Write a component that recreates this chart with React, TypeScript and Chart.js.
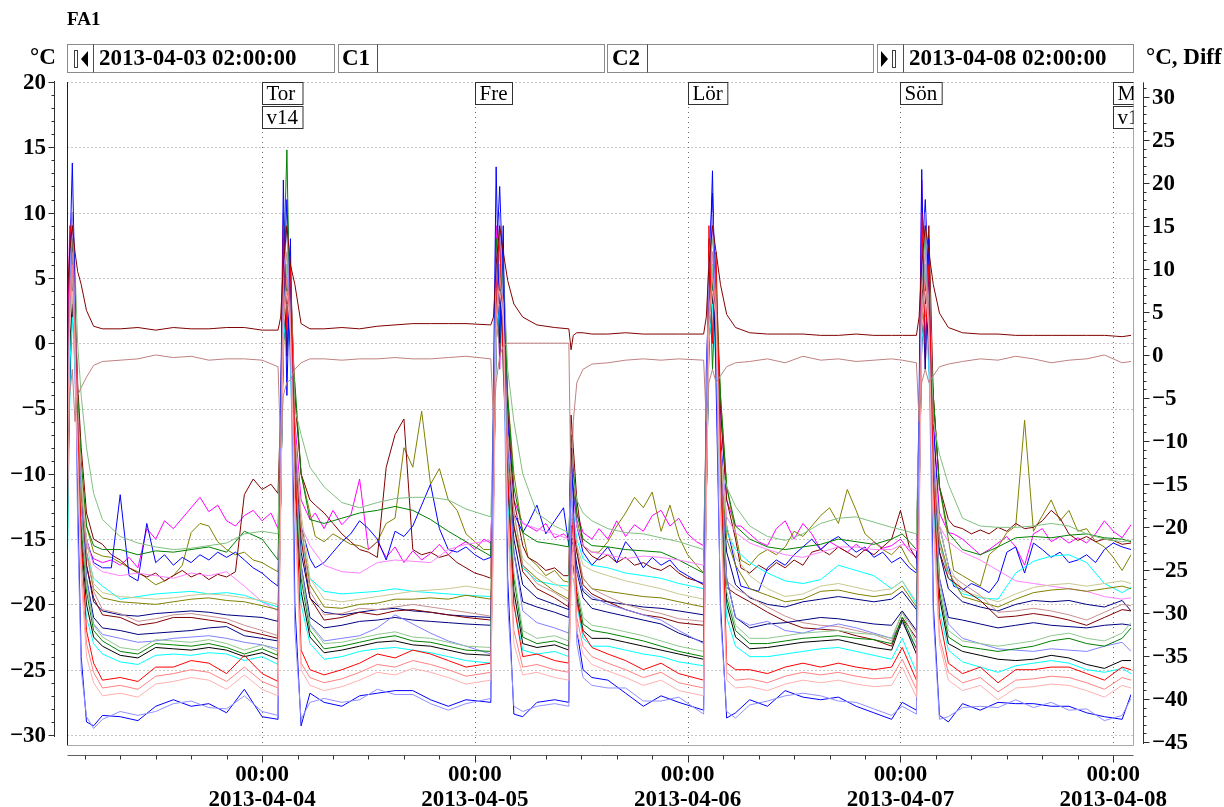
import React, { useEffect, useRef } from "react";
import { Chart, registerables } from "chart.js";

Chart.register(...registerables);

// ---------- time axes: hours after 2013-04-03 02:00 ----------
const hours = [
  0, 0.3, 0.6, 0.9, 1.2, 1.6, 2.2, 3, 4,
  6, 8, 10, 12, 14, 16, 18, 20, 22, 23.8,
  24.1, 24.4, 24.8, 25.2, 25.7, 26.4, 27.4,
  29, 31, 33, 35, 37, 39, 41, 43, 45, 47.8,
  48.1, 48.4, 48.8, 49.2, 49.7, 50.4, 51.4,
  53, 55, 56.6, 56.85, 57.1, 57.5, 58.2, 59.2,
  61, 63, 65, 67, 69, 71.8,
  72.1, 72.4, 72.8, 73.2, 73.7, 74.4, 75.4,
  77, 79, 81, 83, 85, 87, 89, 91, 93, 94.2, 95.8,
  96.1, 96.4, 96.8, 97.2, 97.7, 98.4, 99.4,
  101, 103, 105, 107, 109, 111, 113, 115, 117, 119, 120,
];
const fineHours = [
  0, 0.3, 0.6, 0.9, 1.2, 1.6, 2.2, 3, 4,
  5, 6, 7, 8, 9, 10, 11, 12, 13, 14, 15, 16, 17, 18, 19, 20, 21, 22, 23, 23.8,
  24.1, 24.4, 24.8, 25.2, 25.7, 26.4, 27.4,
  28, 29, 30, 31, 32, 33, 34, 35, 36, 37, 38, 39, 40, 41, 42, 43, 44, 45, 46, 47, 47.8,
  48.1, 48.4, 48.8, 49.2, 49.7, 50.4, 51.4,
  52, 53, 54, 55, 56, 56.6, 56.85, 57.1, 57.5, 58.2, 59.2,
  60, 61, 62, 63, 64, 65, 66, 67, 68, 69, 70, 71, 71.8,
  72.1, 72.4, 72.8, 73.2, 73.7, 74.4, 75.4,
  76, 77, 78, 79, 80, 81, 82, 83, 84, 85, 86, 87, 88, 89, 90, 91, 92, 93, 94, 95, 95.8,
  96.1, 96.4, 96.8, 97.2, 97.7, 98.4, 99.4,
  100, 101, 102, 103, 104, 105, 106, 107, 108, 109, 110, 111, 112, 113, 114, 115, 116, 117, 118, 119, 120,
];

// ---------- noisy series (fine time axis, °C) ----------
const magenta = [
  -2, 9, 5, -2, -8, -13, -15.5, -16.5, -16.8,
  -16.6, -17.0, -16.4, -17.2, -14.2, -15.0, -13.6, -14.2, -13.4, -12.6, -11.8, -12.9, -12.4, -13.6, -14.0, -13.2, -12.8, -13.6, -13.0, -14.2,
  -6, 10, 0, 6, -6, -12, -13.5,
  -13.0, -14.2, -12.8, -13.9, -13.2, -10.4, -15.8, -15.2, -16.4, -15.6, -16.8, -15.9, -16.6, -16.1, -15.4, -16.2, -15.6, -15.2, -15.8, -15.0, -15.3,
  -8, 9, -2, 5, -5, -12, -13.8,
  -14.0, -14.4, -13.8, -14.9, -14.6, -15.0, -12, -10, -13, -14.5, -15.0,
  -14.2, -15.0, -13.6, -14.8, -13.9, -14.4, -13.2, -12.8, -14.0, -13.4, -14.6, -15.2, -15.5,
  -6, 2, 10, 0, -5, -12, -14,
  -14.0, -14.6, -15.2, -15.5, -14.2, -13.6, -15.0, -13.8, -14.6, -15.8, -15.2, -15.6, -16.0, -15.4, -15.9, -15.2, -15.7, -15.5, -15.0, -15.9, -16.4,
  -6, 12.5, 2, 6, -6, -13, -14.5,
  -14.6, -15.0, -15.6, -16.2, -15.8, -15.3, -14.8, -15.6, -17.0, -14.6, -14.2, -15.2, -14.8, -15.3, -14.9, -15.3, -14.6, -13.6, -14.4, -14.9, -13.9,
];
const oliveUp = [
  -18, -3, 5, 2, -6, -10, -14, -16, -16.3,
  -16.4, -16.8, -17.2, -17.5, -18.0, -18.5, -18.2, -17.8, -17.0, -14.5, -13.8, -14.0, -15.2, -15.8, -16.2, -16.0, -16.6, -16.8, -17.2, -17.5,
  -8, -1, 6, 4, -4, -10, -13,
  -14.8, -15.2, -14.6, -15.0, -15.4, -15.5, -15.8, -15.2, -13.8, -13.4, -8.0, -9.5, -5.2, -10.8, -9.6, -12.0, -12.8, -14.6, -15.2, -15.8, -15.8,
  -8, 2, 6, 3, -4, -10, -14.5,
  -16.4, -17.0, -17.8, -17.4, -18.2, -18.3, -9.0, -11.0, -13.5, -15.5, -16.0,
  -16.0, -15.2, -14.0, -13.0, -11.8, -12.6, -11.4, -14.4, -12.4, -14.8, -16.2, -17.0, -17.6,
  -8, 2, 6, 3, -4, -11, -14.5,
  -16.6, -17.0, -16.2, -15.8, -16.2, -15.6, -14.4, -14.8, -14.0, -13.2, -12.6, -13.8, -11.2, -12.8, -14.6, -15.2, -15.8, -16.2, -15.5, -16.8, -17.4,
  -8, 1, 5, 3, -4, -11, -15,
  -17.4, -17.8, -18.2, -18.6, -16.2, -15.6, -14.5, -14.0, -5.9, -14.4, -13.2, -12.0, -13.6, -12.8, -14.4, -14.2, -15.2, -15.6, -16.4, -17.4, -16.2,
];
const blueUp = [
  -10, 3, 8, 0, -8, -12, -15, -16.8, -17.2,
  -17.2, -11.6, -17.8, -18.2, -13.8, -16.8, -16.2, -17.0, -16.4, -16.8, -16.2, -16.6, -16.0, -16.4, -16.0, -16.6, -17.2, -17.6, -18.2, -18.6,
  -10, 4, 11, 3, -8, -14, -16.5,
  -17.2, -16.8, -16.0, -15.2, -14.6, -13.6, -14.2, -15.0, -16.6, -14.4, -14.8, -14.0, -12.4, -10.8, -14.2, -15.8, -16.0, -15.6, -16.2, -16.6, -16.4,
  -8, 6, 12, 4, -6, -13, -14.5,
  -13.8, -12.4, -14.6, -13.6, -12.6, -15.5, -8.5, -11.5, -14.0, -16.0, -17.0,
  -16.4, -15.6, -16.8, -15.2, -16.0, -17.2, -16.4, -17.0, -16.6, -17.4, -17.8, -18.2, -18.4,
  -8, 6, 11.5, 3, -7, -14, -17,
  -18.6, -18.8, -19.0, -17.2, -16.6, -17.0, -16.2, -15.6, -15.0, -15.8, -15.2, -14.8, -15.4, -16.0, -15.6, -16.4, -16.0, -16.8, -16.4, -17.2, -17.6,
  -8, 6, 11, 4, -6, -14, -17,
  -18.6, -18.9, -18.4, -18.7, -19.1, -18.2, -16.0, -15.6, -17.6, -15.3, -15.8, -16.4, -16.0, -16.8, -16.6, -16.2, -16.8, -15.8, -15.3, -15.6, -15.8,
];
const maroonUp = [
  -6, 4, 7, 3, -3, -8, -13, -15, -15.4,
  -16.2, -16.6, -17.2, -17.6, -17.9, -17.6, -18.2, -17.8, -17.4, -17.9, -17.6, -18.1, -17.7, -17.9, -17.5, -11.6, -10.4, -11.2, -10.8, -11.5,
  -5, 8, -1, 5, -4, -10, -12,
  -12.4, -13.0, -13.8, -14.6, -15.2, -15.8, -16.0, -16.4, -9.5, -7.0, -5.8, -15.8, -16.2, -16.0, -16.4, -16.2, -16.8, -17.2, -17.6, -17.8, -18.0,
  -6, 4, 8, -1, -5, -12, -15.5,
  -16.4, -16.8, -17.4, -17.2, -17.8, -17.8, -5.5, -8, -12, -15.5, -16.3,
  -16.6, -16.2, -16.8, -16.4, -17.0, -16.8, -17.2, -17.4, -17.0, -17.6, -18.0, -18.2, -18.5,
  -6, 8, 0, 4, -5, -12, -15,
  -17.2, -17.6, -17.0, -17.4, -16.8, -17.2, -16.6, -17.0, -16.0, -15.8, -16.2, -15.6, -16.0, -16.4, -15.8, -16.2, -15.6, -15.0, -12.8, -15.6, -16.5,
  -5, 5, -2, 9, -4, -11, -13.5,
  -14.0, -14.2, -14.6, -14.3, -14.6, -14.1, -14.4, -13.8, -14.2, -14.1, -13.6, -12.8, -13.4, -14.6, -15.1, -14.8, -15.2, -15.0, -15.1, -15.4, -15.3,
];

// ---------- smoother series (coarse time axis, °C) ----------
const topA = [
  3, 7, 9, 7, 5.5, 4.5, 2.5, 1.3, 1.1,
  1.1, 1.2, 1.0, 1.2, 1.1, 1.1, 1.2, 1.2, 1.0, 1.0,
  2, 6, 9, 6, 4.5, 1.5, 1.1,
  1.1, 1.2, 1.1, 1.3, 1.4, 1.5, 1.5, 1.5, 1.5, 1.4,
  2, 6, 9, 7, 4.8, 3.0, 2.0,
  1.4, 1.2, 1.1, -0.5, 0.6, 0.8, 0.8, 0.7,
  0.7, 0.8, 0.7, 0.7, 0.7, 0.7,
  2, 6, 9, 7, 4.5, 2.2, 1.2,
  0.8, 0.7, 0.7, 0.7, 0.6, 0.6, 0.7, 0.6, 0.6, 0.6, 0.6,
  2, 6, 9, 7, 4.5, 2.3, 1.2,
  0.8, 0.7, 0.7, 0.6, 0.6, 0.6, 0.6, 0.6, 0.6, 0.5, 0.6,
];
const topB = [
  -10, -4, -2, -6, -4, -3.4, -2.6, -1.7, -1.4,
  -1.3, -1.2, -0.9, -1.1, -1.0, -1.3, -1.2, -1.2, -1.3, -1.8,
  -8, -4, -3, -2.8, -2.0, -1.5, -1.2,
  -1.2, -1.3, -1.2, -1.2, -1.1, -1.2, -1.2, -1.1, -1.0, -1.2,
  -6, -3, -1, -0.2, 0, 0, 0,
  0, 0, 0, -12, -6, -3, -2, -1.6,
  -1.5, -1.3, -1.2, -1.3, -1.2, -1.3,
  -6, -3, -2, -3, -2.5, -1.8, -1.5,
  -1.4, -1.2, -1.5, -1.0, -1.3, -1.2, -1.4, -1.3, -1.2, -1.3, -1.5,
  -6, -3, -2, -3, -2.5, -1.8, -1.6,
  -1.4, -1.2, -1.3, -1.0, -1.2, -1.5, -1.3, -1.2, -0.9, -1.5, -1.4,
];
const lightMagenta = [
  -12, 4, 6, -3, -8, -12, -15, -17, -17.5,
  -17.8, -17.6, -17.8, -18.0, -17.6, -17.8, -17.5, -18.6, -19.8, -20.5,
  -10, 2, 6, 0, -8, -14, -15.5,
  -17.0, -17.5, -17.6, -16.8, -16.6, -16.7, -16.8, -15.8, -15.4, -15.1,
  -9, 2, 6, 0, -8, -13, -13.8,
  -14.2, -14.6, -15.0, -14, -12, -14, -15.5, -16.0,
  -16.2, -16.5, -16.3, -16.4, -16.6, -17.0,
  -10, 3, 7, 0, -8, -13.3, -14.5,
  -15.3, -15.8, -16.2, -16.4, -16.0, -15.6, -15.6, -15.8, -15.8, -15.4, -15.9,
  -10, 2, 6, 0, -8, -14, -15.2,
  -16.0, -16.6, -17.4, -18.2, -18.4, -18.6, -18.8, -19.0, -19.4, -19.6, -19.5,
];
const greenUp = [
  -14, 2, 8, 3, -4, -9, -14, -15.5, -15.8,
  -15.8, -16.2, -15.9, -16.0, -15.8, -15.6, -16.0, -14.4, -15.0, -16.6,
  -6, 5, 14.8, -1, -3, -10, -13.5,
  -13.8, -13.4, -13.0, -12.8, -12.5, -12.8, -13.5, -14.4, -15.2, -16.3,
  -6, 8, -1, 6, -4, -11, -14.5,
  -15.2, -15.4, -15.6, -7.0, -9.5, -13.0, -15.0, -15.5,
  -15.6, -15.8, -15.9, -16.0, -16.6, -17.6,
  -6, 7, -2, 5, -4, -11, -14,
  -15.0, -15.6, -15.8, -15.6, -15.4, -15.0, -15.2, -15.4, -15.0, -14.6, -15.8,
  -6, 4, 9, 0, -4, -11, -14.5,
  -15.8, -16.2, -15.6, -14.9, -14.8, -14.9, -14.7, -14.6, -14.9, -15.0, -15.2,
];
const lightGreenUp = [
  -10, 5, 10, 6, 0, -4, -8, -11.5, -13.5,
  -14.8, -15.3, -15.6, -15.8, -15.7, -15.5, -15.3, -14.6, -14.4, -14.6,
  -4, 5, 9, 6, -5, -7, -9.5,
  -11.0, -12.2, -12.6, -12.2, -11.9, -11.8, -11.8, -12.0, -12.7, -13.3,
  -5, 5, 8, 6, -2, -6, -10,
  -13.0, -14.0, -14.5, -10.0, -10.5, -12.0, -13.0, -13.6,
  -14.2, -14.5, -14.6, -14.9, -15.2, -15.8,
  -5, 5, 8, 5, -9, -11, -12.5,
  -14.0, -14.8, -15.1, -14.6, -13.8, -13.4, -13.3, -13.7, -14.1, -14.3, -14.6,
  -5, 5, 9, 7, -6, -8.5, -10.8,
  -13.4, -14.0, -14.1, -14.1, -14.0, -13.8, -14.0, -14.6, -15.0, -15.2, -15.1,
];
const cyanUp = [
  -19, -5, 3, 0, -8, -12, -16, -18, -18.6,
  -19.6, -19.4, -19.2, -19.1, -19.0, -19.2, -19.1, -19.3, -19.8, -20.2,
  -12, 2, 5, 0, -8, -15, -18,
  -19.0, -19.2, -19.1, -19.0, -18.8, -19.0, -19.1, -19.2, -19.3, -19.4,
  -12, 2, 5, 0, -8, -14, -17.2,
  -18.2, -18.5, -18.6, -12, -13, -15, -16.5, -17.0,
  -17.2, -17.6, -17.8, -18.0, -18.4, -18.8,
  -12, 2, 5, 0, -10, -14.5, -15.8,
  -16.8, -17.6, -18.2, -18.4, -18.1, -17.0, -17.4, -17.8, -18.8, -18.2, -20.0,
  -12, 2, 5, 0, -10, -15, -18,
  -19.2, -19.5, -19.6, -17.6, -16.7, -16.3, -16.2, -16.8, -18.4, -19.1, -18.7,
];
const oliveMid = [
  -16, -2, 4, 1, -6, -11, -16, -18.8, -19.5,
  -19.8, -19.9, -20.0, -19.8, -19.6, -19.5, -19.7, -19.8, -20.1, -20.4,
  -12, 1, 4, 0, -8, -14, -18.5,
  -20.2, -20.3, -20.0, -19.9, -19.6, -19.6, -19.5, -19.6, -19.3, -19.6,
  -12, 1, 4, 0, -8, -14, -17,
  -18.0, -19.0, -19.6, -14, -14, -16, -18, -18.8,
  -19.0, -19.2, -19.4, -19.5, -19.8, -20.2,
  -12, 1, 4, 0, -9, -15, -17,
  -18.8, -19.3, -19.8, -19.6, -19.0, -18.9, -19.2, -19.4, -19.2, -18.6, -20.2,
  -12, 1, 4, 0, -9, -15, -17.5,
  -19.4, -19.8, -20.2, -19.6, -19.1, -18.9, -18.8, -19.0, -18.8, -18.6, -18.8,
];
const lightOliveMid = [
  -14, 0, 5, 2, -5, -10, -15, -18.4, -19.1,
  -19.4, -19.5, -19.6, -19.5, -19.3, -19.2, -19.3, -19.5, -19.7, -20.0,
  -10, 2, 5, 1, -7, -13, -18,
  -19.6, -19.8, -19.6, -19.4, -19.2, -19.0, -18.9, -18.8, -18.6, -18.9,
  -10, 2, 5, 1, -7, -13, -16.5,
  -17.5, -18.4, -19.0, -13, -13.5, -15.5, -17, -17.4,
  -17.8, -18.2, -18.5, -18.8, -19.2, -19.6,
  -10, 2, 5, 1, -8, -14, -16.4,
  -17.8, -18.8, -19.4, -19.2, -18.6, -18.4, -18.7, -19.0, -18.8, -18.2, -19.8,
  -10, 2, 5, 1, -8, -14, -17,
  -19.0, -19.4, -19.8, -19.2, -18.7, -18.5, -18.4, -18.6, -18.4, -18.2, -18.4,
];
const navyUp = [
  -15, -3, 3, 0, -7, -12, -17, -19.8, -20.5,
  -20.8, -20.9, -20.7, -20.6, -20.5, -20.6, -20.8, -20.9, -21.0, -21.3,
  -12, 0, 4, -1, -9, -16, -19.5,
  -20.6, -20.8, -20.6, -20.4, -20.3, -20.5, -20.6, -20.8, -20.9, -21.0,
  -12, 0, 4, -1, -9, -15, -18.5,
  -19.5, -20.0, -20.4, -15, -15, -17, -19, -19.6,
  -19.8, -20.0, -20.2, -20.3, -20.5, -20.8,
  -12, 0, 4, -1, -10, -16, -18.5,
  -19.5, -20.0, -20.2, -19.8, -19.6, -19.4, -19.6, -19.8, -19.6, -19.0, -20.4,
  -12, 0, 4, -1, -10, -16, -18.8,
  -19.8, -20.2, -20.5, -20.0, -19.7, -19.8, -19.7, -20.0, -20.2, -19.7, -20.5,
];
const maroonMid = [
  -12, 2, 6, 2, -6, -12, -17, -19.5, -20.8,
  -21.0, -21.6, -21.4, -21.0, -21.0, -21.2, -21.4, -22.0, -22.3, -22.6,
  -10, 3, 6, 2, -8, -15, -19.5,
  -21.2, -21.0, -20.6, -20.8, -20.5, -20.4, -20.6, -20.8, -21.0, -21.2,
  -10, 3, 6, 2, -8, -14, -17.5,
  -18.8, -19.5, -20.2, -14, -14, -16, -18.5, -19.2,
  -19.8, -20.4, -20.8, -21.0, -21.4, -21.6,
  -10, 3, 6, 2, -9, -18.7, -19.2,
  -19.8, -20.6, -21.3, -21.8, -21.9, -22.0, -22.4, -22.7, -23.2, -21.0, -22.6,
  -10, 3, 6, 2, -9, -16, -18,
  -18.8, -19.7, -21.0, -20.9, -20.7, -20.9, -21.2, -21.6, -21.0, -20.4, -20.5,
];
const lightMaroonMid = [
  -11, 3, 7, 3, -5, -11, -16, -19, -20.4,
  -20.7, -21.3, -21.1, -20.8, -20.7, -20.9, -21.1, -21.6, -22.0, -22.4,
  -9, 4, 7, 3, -7, -14, -19,
  -20.8, -20.7, -20.3, -20.4, -20.2, -20.0, -20.2, -20.4, -20.6, -20.9,
  -9, 4, 7, 3, -7, -13, -17,
  -18.4, -19.1, -19.8, -13.5, -13.5, -15.5, -18, -18.8,
  -19.4, -20.0, -20.4, -20.7, -21.1, -21.3,
  -9, 4, 7, 3, -8, -18.2, -18.8,
  -19.4, -20.2, -20.9, -21.4, -21.6, -21.7, -22.0, -22.3, -22.8, -20.6, -22.2,
  -9, 4, 7, 3, -8, -15.5, -17.6,
  -18.4, -19.3, -20.6, -20.5, -20.3, -20.5, -20.8, -21.2, -20.6, -20.0, -20.1,
];
const navyMid = [
  -14, 0, 5, 1, -7, -13, -18, -21, -21.8,
  -22.0, -22.3, -22.2, -22.1, -22.0, -21.8, -21.7, -22.4, -22.6, -22.8,
  -12, 1, 5, 0, -9, -17, -21,
  -21.8, -21.6, -21.3, -21.2, -21.0, -21.2, -21.3, -21.4, -21.5, -21.6,
  -12, 1, 5, 0, -9, -16, -19.8,
  -20.2, -20.6, -21.0, -15, -15.5, -17.5, -19.5, -20.3,
  -20.6, -20.9, -21.2, -21.5, -22.2, -22.9,
  -12, 1, 5, 0, -10, -18, -21,
  -21.8, -21.5, -21.4, -21.2, -21.0, -21.1, -21.3, -21.5, -21.6, -20.5, -22.0,
  -12, 1, 5, 0, -10, -18, -21,
  -21.2, -21.5, -21.8, -21.6, -21.4, -21.6, -21.7, -21.8, -21.6, -21.5, -21.6,
];
const lavender = [
  -10, 2, 6, 2, -6, -12, -18, -21.5, -22.3,
  -22.6, -22.9, -22.8, -22.6, -22.5, -22.4, -22.6, -22.9, -23.1, -23.4,
  -10, 2, 6, 1, -8, -17, -21.5,
  -22.8, -22.6, -22.4, -21.8, -20.8, -21.5, -22.2, -22.8, -23.2, -23.8,
  -10, 2, 6, 1, -8, -16, -20.5,
  -21.4, -21.8, -22.2, -16, -16, -17.5, -18.8, -19.4,
  -20.0, -20.4, -20.8, -21.2, -22.0, -23.0,
  -10, 2, 6, 1, -9, -18, -21,
  -21.6, -21.3, -22.0, -22.2, -21.8, -21.5, -21.8, -22.2, -22.6, -21.4, -23.4,
  -10, 2, 6, 1, -9, -18, -21.5,
  -22.6, -23.0, -23.4, -23.5, -23.6, -23.4, -23.5, -23.6, -23.2, -22.9, -23.6,
];
const greenLow = [
  -12, 0, 4, 1, -8, -14, -19, -22, -22.8,
  -23.6, -23.8, -23.0, -23.1, -23.2, -23.0, -23.3, -23.8, -23.4, -23.9,
  -10, 1, 5, 0, -10, -18, -22,
  -23.4, -23.2, -22.9, -22.6, -22.4, -22.8, -22.9, -23.2, -23.5, -23.6,
  -10, 1, 5, 0, -10, -18, -22.5,
  -23.0, -22.8, -23.2, -17, -17, -19, -21.5, -22.0,
  -22.2, -22.5, -22.8, -23.2, -23.6, -24.0,
  -10, 1, 5, 0, -11, -19.5, -22,
  -23.0, -23.0, -22.8, -22.6, -22.5, -22.4, -22.6, -22.7, -23.0, -21.0, -23.4,
  -10, 1, 5, 0, -11, -19, -22.5,
  -23.2, -23.4, -23.6, -23.4, -23.2, -22.8, -22.6, -23.0, -23.2, -22.6, -21.8,
];
const lightGreenLow = [
  -11, 1, 5, 2, -7, -13, -18.5, -21.6, -22.5,
  -23.3, -23.5, -22.7, -22.8, -22.9, -22.7, -23.0, -23.5, -23.1, -23.6,
  -9, 2, 6, 1, -9, -17.5, -21.6,
  -23.0, -22.9, -22.6, -22.3, -22.1, -22.5, -22.6, -22.9, -23.2, -23.3,
  -9, 2, 6, 1, -9, -17.5, -22,
  -22.6, -22.4, -22.8, -16.5, -16.5, -18.5, -21, -21.6,
  -21.8, -22.1, -22.4, -22.8, -23.2, -23.6,
  -9, 2, 6, 1, -10, -19, -21.6,
  -22.6, -22.6, -22.4, -22.2, -22.1, -22.0, -22.2, -22.3, -22.6, -20.6, -23.0,
  -9, 2, 6, 1, -10, -18.5, -22,
  -22.8, -23.0, -23.2, -23.0, -22.8, -22.4, -22.2, -22.6, -22.8, -22.2, -21.4,
];
const blackLow = [
  -14, 0, 3, -1, -9, -15, -20, -22.5, -23.2,
  -23.9, -24.1, -23.3, -23.4, -23.5, -23.3, -23.5, -24.0, -23.7, -24.2,
  -12, 0, 4, -1, -11, -19, -22.5,
  -23.7, -23.5, -23.2, -22.9, -22.8, -23.1, -23.2, -23.5, -23.8, -23.9,
  -12, 0, 4, -1, -11, -19, -23,
  -23.3, -23.1, -23.5, -17, -17, -19.5, -22, -22.6,
  -22.6, -22.9, -23.2, -23.5, -23.8, -24.2,
  -12, 0, 4, -1, -11, -20, -22.5,
  -23.4, -23.3, -23.1, -22.9, -22.8, -22.7, -23.0, -23.3, -23.5, -21.2, -23.8,
  -12, 0, 4, -1, -11, -19.5, -23,
  -23.6, -23.9, -24.2, -24.3, -24.2, -23.9, -24.1, -24.6, -24.9, -24.3, -24.3,
];
const cyanLow = [
  -16, -2, 2, -2, -10, -16, -21, -23, -23.8,
  -24.4, -24.6, -23.9, -23.8, -23.9, -23.7, -23.8, -24.3, -24.0, -24.6,
  -12, 0, 3, -2, -12, -20, -23,
  -24.2, -24.0, -23.6, -23.4, -23.3, -23.5, -23.7, -24.0, -24.3, -24.5,
  -12, 0, 3, -2, -12, -20, -23.5,
  -23.8, -23.6, -24.0, -18, -18, -20, -22.6, -23.2,
  -23.2, -23.5, -23.8, -24.0, -24.4, -24.7,
  -12, 0, 3, -2, -12, -21, -23.2,
  -24.0, -24.0, -23.8, -23.6, -23.4, -23.3, -23.6, -23.9, -24.2, -22.6, -25.2,
  -12, 0, 3, -2, -12, -20.5, -23.5,
  -24.4, -24.8, -25.2, -24.7, -24.5, -24.3, -24.5, -25.0, -25.2, -24.9, -25.3,
];
const red = [
  -14, 8, 10, 2, -6, -15, -22, -24.5, -25.8,
  -25.6, -25.9, -24.8, -24.8, -24.3, -24.5, -25.3, -23.9, -25.3, -25.9,
  -10, 9, 1, 6, -8, -23.5, -25.0,
  -25.4, -25.0, -24.5, -23.8, -24.1, -23.5, -23.8, -24.3, -24.8, -24.5,
  -12, 4, 9, -2, -10, -20, -24,
  -23.8, -24.3, -24.5, -16, -13, -19.7, -22.2, -23.3,
  -23.8, -24.3, -25.0, -24.5, -25.3, -25.8,
  -10, 9, 0, 7, -8, -24.5, -25.0,
  -25.0, -25.3, -24.8, -24.5, -24.8, -24.5, -24.8, -25.0, -24.8, -23.3, -25.8,
  -12, 10, 0, 6, -10, -21, -24.5,
  -25.3, -24.8, -26.0, -25.0, -25.0, -24.8, -24.8, -25.3, -25.8, -24.8, -25.0,
];
const lightRed = [
  -16, 3, 6, 0, -8, -17, -23, -25.2, -26.4,
  -26.2, -26.5, -25.5, -25.3, -25.0, -25.2, -25.9, -24.8, -25.9, -26.4,
  -12, 2, 5, 2, -12, -24.5, -25.6,
  -26.0, -25.7, -25.2, -24.6, -24.8, -24.3, -24.6, -25.0, -25.5, -25.2,
  -14, 2, 5, 3, -13, -22, -24.8,
  -24.6, -25.0, -25.2, -18, -15, -21, -23.2, -24.0,
  -24.5, -25.0, -25.6, -25.2, -26.0, -26.4,
  -12, 2, 5, 3, -12, -25.2, -25.8,
  -25.7, -26.0, -25.5, -25.2, -25.4, -25.2, -25.5, -25.7, -25.6, -24.2, -26.5,
  -14, 2, 5, 2, -13, -22.5, -25.2,
  -26.0, -25.6, -26.7, -25.8, -25.7, -25.5, -25.6, -26.0, -26.5, -25.6, -25.8,
];
const pinkRed = [
  -17, 1, 4, -1, -9, -18, -24, -26, -27,
  -26.8, -27.1, -26.1, -25.9, -25.6, -25.8, -26.5, -25.4, -26.5, -27.0,
  -13, 1, 4, 1, -13, -25, -26.2,
  -26.6, -26.3, -25.8, -25.2, -25.4, -24.9, -25.2, -25.6, -26.1, -25.8,
  -15, 1, 4, 2, -14, -23, -25.4,
  -25.2, -25.6, -25.8, -19, -16, -22, -23.8, -24.6,
  -25.1, -25.6, -26.2, -25.8, -26.6, -27.0,
  -13, 1, 4, 2, -13, -25.8, -26.4,
  -26.3, -26.6, -26.1, -25.8, -26.0, -25.8, -26.1, -26.3, -26.2, -24.8, -27.1,
  -15, 1, 4, 1, -14, -23, -25.8,
  -26.6, -26.2, -27.3, -26.4, -26.3, -26.1, -26.2, -26.6, -27.1, -26.2, -26.4,
];
const blueBottom = [
  -8, 6, 13.8, 4, -12, -24, -29, -29.3, -28.5,
  -28.6, -28.9, -27.8, -27.3, -27.8, -27.6, -28.3, -26.5, -28.6, -28.8,
  -5, 12.5, -4, 8, -20, -29.3, -26.8,
  -27.5, -27.8, -27.0, -26.8, -26.6, -26.6, -27.3, -27.8, -27.3, -27.5,
  -3, 13.5, 0, 9, -18, -28.4, -28.6,
  -27.5, -27.3, -27.5, -8.0, -12.0, -22.0, -25.0, -25.6,
  -25.8, -26.8, -27.8, -27.0, -27.5, -28.1,
  -2, 4, 13.2, -3, -20, -28.7, -28.3,
  -27.3, -27.8, -26.6, -27.1, -27.3, -27.1, -27.8, -28.3, -28.8, -27.5, -28.1,
  -4, 13.3, -2, 8, -20, -28.5, -29.0,
  -27.6, -28.1, -27.5, -27.6, -27.6, -27.8, -27.8, -28.3, -28.6, -28.8, -26.9,
];
const lightBlueBottom = [
  -10, 4, 10, 2, -14, -25, -28.6, -29.5, -28.8,
  -28.2, -28.5, -28.2, -27.6, -27.4, -27.9, -28.0, -27.0, -28.2, -28.5,
  -7, 5, 9, 0, -22, -28.8, -27.5,
  -27.2, -27.5, -27.3, -26.5, -26.9, -26.9, -27.6, -28.1, -27.6, -27.2,
  -5, 6, 10, 2, -20, -27.8, -28.2,
  -27.8, -27.6, -27.8, -10, -14, -23, -25.6, -26.2,
  -26.4, -26.4, -27.4, -27.4, -27.1, -28.4,
  -4, 6, 10, 1, -21, -28.2, -28.7,
  -27.7, -27.4, -27.0, -26.8, -27.0, -27.4, -27.5, -28.0, -28.5, -27.8, -28.4,
  -6, 5, 10, 0, -21, -28.8, -28.6,
  -27.9, -27.8, -27.9, -27.3, -27.9, -27.5, -28.1, -28.0, -28.9, -28.5, -27.2,
];

// ---------- labels ----------
const leftTicks = [20, 15, 10, 5, 0, -5, -10, -15, -20, -25, -30];
const rightTicks = [30, 25, 20, 15, 10, 5, 0, -5, -10, -15, -20, -25, -30, -35, -40, -45];
const midnightHours = [22, 46, 70, 94, 118];
const dateLabels = ["2013-04-04", "2013-04-05", "2013-04-06", "2013-04-07", "2013-04-08"];
const timeLabel = "00:00";
const dayNames = ["Tor", "Fre", "Lör", "Sön", "M"];
const weekNames = ["v14", "", "", "", "v15"];
const startLabel = "2013-04-03 02:00:00";
const endLabel = "2013-04-08 02:00:00";

const seriesList = [
  { name: "topB", t: hours, data: topB, color: "#c08080" },
  { name: "topA", t: hours, data: topA, color: "#800000" },
  { name: "pinkRed", t: hours, data: pinkRed, color: "#ffb0b0" },
  { name: "lightRed", t: hours, data: lightRed, color: "#ff8080" },
  { name: "lightBlueBottom", t: hours, data: lightBlueBottom, color: "#9090ff" },
  { name: "red", t: hours, data: red, color: "#ff0000" },
  { name: "blueBottom", t: hours, data: blueBottom, color: "#0000ff" },
  { name: "cyanLow", t: hours, data: cyanLow, color: "#00ffff" },
  { name: "lightGreenLow", t: hours, data: lightGreenLow, color: "#90c890" },
  { name: "blackLow", t: hours, data: blackLow, color: "#000000" },
  { name: "greenLow", t: hours, data: greenLow, color: "#008000" },
  { name: "lavender", t: hours, data: lavender, color: "#8080ff" },
  { name: "navyMid", t: hours, data: navyMid, color: "#000080" },
  { name: "lightMaroonMid", t: hours, data: lightMaroonMid, color: "#c89090" },
  { name: "maroonMid", t: hours, data: maroonMid, color: "#800000" },
  { name: "navyUp", t: hours, data: navyUp, color: "#000080" },
  { name: "lightOliveMid", t: hours, data: lightOliveMid, color: "#c8c890" },
  { name: "oliveMid", t: hours, data: oliveMid, color: "#808000" },
  { name: "cyanUp", t: hours, data: cyanUp, color: "#00ffff" },
  { name: "lightGreenUp", t: hours, data: lightGreenUp, color: "#80c080" },
  { name: "lightMagenta", t: hours, data: lightMagenta, color: "#ff80ff" },
  { name: "greenUp", t: hours, data: greenUp, color: "#008000" },
  { name: "blueUp", t: fineHours, data: blueUp, color: "#0000ff" },
  { name: "maroonUp", t: fineHours, data: maroonUp, color: "#800000" },
  { name: "oliveUp", t: fineHours, data: oliveUp, color: "#808000" },
  { name: "magenta", t: fineHours, data: magenta, color: "#ff00ff" },
];

const SERIF = '"Liberation Serif", "Times New Roman", serif';
const minus = (v: number) => (v < 0 ? "\u2212" + Math.abs(v) : String(v));

function hline(ctx: CanvasRenderingContext2D, x1: number, x2: number, y: number) {
  ctx.beginPath();
  ctx.moveTo(x1, y);
  ctx.lineTo(x2, y);
  ctx.stroke();
}
function vline(ctx: CanvasRenderingContext2D, x: number, y1: number, y2: number) {
  ctx.beginPath();
  ctx.moveTo(x, y1);
  ctx.lineTo(x, y2);
  ctx.stroke();
}

const FRAME_RIGHT = 1133.5;
const FRAME_BOTTOM = 745.5;
const FRAME_LEFT = 67.5;

const decor = {
  id: "decor",
  beforeDatasetsDraw(chart: any) {
    const { ctx, scales } = chart;
    const xs = scales.x;
    const ys = scales.y;
    const top = chart.chartArea.top;
    ctx.save();
    ctx.lineWidth = 1;
    ctx.strokeStyle = "#8c8c8c";
    ctx.setLineDash([1, 3]);
    for (const v of leftTicks) {
      const py = Math.round(ys.getPixelForValue(v)) + 0.5;
      hline(ctx, FRAME_LEFT, FRAME_RIGHT, py);
    }
    ctx.strokeStyle = "#6a6a6a";
    ctx.setLineDash([1, 4]);
    for (const h of midnightHours) {
      const px = Math.round(xs.getPixelForValue(h)) + 0.5;
      vline(ctx, px, top, FRAME_BOTTOM);
    }
    ctx.restore();
  },
  afterDatasetsDraw(chart: any) {
    const { ctx, scales } = chart;
    const xs = scales.x;
    const ys = scales.y;
    const ys2 = scales.y2;
    const top = chart.chartArea.top;
    ctx.save();
    ctx.setLineDash([]);
    ctx.lineWidth = 1;

    // frame
    ctx.strokeStyle = "#202020";
    vline(ctx, FRAME_LEFT, top, FRAME_BOTTOM);
    ctx.strokeStyle = "#a8a8a8";
    vline(ctx, FRAME_RIGHT, top, FRAME_BOTTOM);
    hline(ctx, FRAME_LEFT, FRAME_RIGHT, FRAME_BOTTOM);

    // day label boxes
    ctx.save();
    ctx.beginPath();
    ctx.rect(FRAME_LEFT, top - 2, FRAME_RIGHT - FRAME_LEFT, 60);
    ctx.clip();
    ctx.font = `21px ${SERIF}`;
    ctx.textBaseline = "middle";
    ctx.textAlign = "left";
    midnightHours.forEach((h, i) => {
      const x0 = Math.round(xs.getPixelForValue(h)) + 0.5;
      const t1 = dayNames[i];
      const t2 = weekNames[i];
      const w = Math.max(ctx.measureText(t1).width, t2 ? ctx.measureText(t2).width : 0) + 9;
      const rows = t2 ? [t1, t2] : [t1];
      rows.forEach((t, r) => {
        const y0 = top + 0.5 + r * 24;
        ctx.fillStyle = "#ffffff";
        ctx.fillRect(x0, y0, w, 22);
        ctx.strokeStyle = "#303030";
        ctx.strokeRect(x0, y0, w, 22);
        ctx.fillStyle = "#000000";
        ctx.fillText(t, x0 + 4, y0 + 12);
      });
    });
    ctx.restore();

    // left axis
    ctx.strokeStyle = "#303030";
    ctx.fillStyle = "#000";
    const axL = 54.5;
    vline(ctx, axL, ys.getPixelForValue(20) - 1, ys.getPixelForValue(-30) + 2);
    for (let v = -30; v <= 20; v++) {
      const py = Math.round(ys.getPixelForValue(v)) + 0.5;
      hline(ctx, v % 5 === 0 ? axL - 6 : axL - 3, axL, py);
    }
    ctx.font = `bold 23px ${SERIF}`;
    ctx.textAlign = "right";
    ctx.textBaseline = "middle";
    for (const v of leftTicks) {
      ctx.fillText(minus(v), 46, ys.getPixelForValue(v) + 1);
    }

    // right axis
    if (ys2) {
      const axR = 1143.5;
      vline(ctx, axR, ys2.getPixelForValue(31.7), ys2.getPixelForValue(-45) + 2);
      for (let v = -45; v <= 31; v++) {
        const py = Math.round(ys2.getPixelForValue(v)) + 0.5;
        hline(ctx, axR, v % 5 === 0 ? axR + 6 : axR + 3, py);
      }
      ctx.textAlign = "left";
      for (const v of rightTicks) {
        ctx.fillText(minus(v), 1152, ys2.getPixelForValue(v) + 1);
      }
    }

    // bottom axis
    const axB = 755.5;
    ctx.strokeStyle = "#606060";
    hline(ctx, FRAME_LEFT, FRAME_RIGHT, axB);
    ctx.strokeStyle = "#303030";
    for (let h = 2; h <= 120; h += 4) {
      const px = Math.round(xs.getPixelForValue(h)) + 0.5;
      const major = midnightHours.includes(h);
      vline(ctx, px, axB, axB + (major ? 7 : 4));
    }
    ctx.textAlign = "center";
    ctx.font = `bold 23px ${SERIF}`;
    midnightHours.forEach((h, i) => {
      const px = xs.getPixelForValue(h);
      ctx.fillText(timeLabel, px, 775);
      ctx.fillText(dateLabels[i], px, 800);
    });

    // header
    ctx.textAlign = "left";
    ctx.font = `bold 19px ${SERIF}`;
    ctx.fillText("FA1", 67, 20);
    ctx.font = `bold 23px ${SERIF}`;
    ctx.fillText("°C", 30, 58);
    ctx.fillText("°C, Diff", 1146, 58);

    const boxes = [
      { x: 67.5, w: 267, div: 93.5, text: startLabel, tx: 99 },
      { x: 338.5, w: 266, div: 377.5, text: "C1", tx: 342 },
      { x: 607.5, w: 266, div: 647.5, text: "C2", tx: 612 },
      { x: 877.5, w: 256, div: 903.5, text: endLabel, tx: 909 },
    ];
    boxes.forEach((b, i) => {
      ctx.fillStyle = "#ffffff";
      ctx.fillRect(b.x, 44.5, b.w, 28);
      ctx.strokeStyle = "#8a8a8a";
      ctx.strokeRect(b.x, 44.5, b.w, 28);
      ctx.strokeStyle = "#505050";
      vline(ctx, b.div, 44.5, 72.5);
      ctx.fillStyle = "#000";
      ctx.fillText(b.text, b.tx, 59);
      if (i === 0) {
        ctx.strokeStyle = "#404040";
        ctx.strokeRect(74.5, 50.5, 3, 17);
        ctx.beginPath();
        ctx.moveTo(88, 51);
        ctx.lineTo(81, 59);
        ctx.lineTo(88, 67);
        ctx.closePath();
        ctx.fill();
      }
      if (i === 3) {
        ctx.beginPath();
        ctx.moveTo(881, 51);
        ctx.lineTo(888, 59);
        ctx.lineTo(881, 67);
        ctx.closePath();
        ctx.fill();
        ctx.strokeStyle = "#404040";
        ctx.strokeRect(892.5, 50.5, 3, 17);
      }
    });

    ctx.restore();
  },
};

export default function App() {
  const ref = useRef<HTMLCanvasElement>(null);
  useEffect(() => {
    const canvas = ref.current;
    if (!canvas) return;
    const datasets = seriesList.map((s) => ({
      label: s.name,
      data: s.t.map((h, i) => ({ x: h, y: s.data[i] })),
      borderColor: s.color,
      backgroundColor: s.color,
      borderWidth: 1,
      pointRadius: 0,
      fill: false,
      tension: 0,
      yAxisID: "y",
      xAxisID: "x",
    }));
    const chart = new Chart(canvas, {
      type: "line",
      data: { datasets },
      options: {
        animation: false,
        responsive: false,
        events: [],
        layout: { padding: { left: 67, right: 93, top: 82, bottom: 72 } },
        plugins: { legend: { display: false }, tooltip: { enabled: false } },
        scales: {
          x: { type: "linear", min: 0, max: 120, display: false },
          y: { type: "linear", min: -30, max: 20, display: false },
          y2: { type: "linear", min: -44.19, max: 31.74, display: false, position: "right" },
        },
      },
      plugins: [decor],
    } as any);
    return () => chart.destroy();
  }, []);
  return (
    <div style={{ position: "absolute", left: 0, top: 0, width: 1224, height: 807, background: "#fff" }}>
      <canvas ref={ref} width={1224} height={807} style={{ display: "block", width: 1224, height: 807 }} />
    </div>
  );
}
